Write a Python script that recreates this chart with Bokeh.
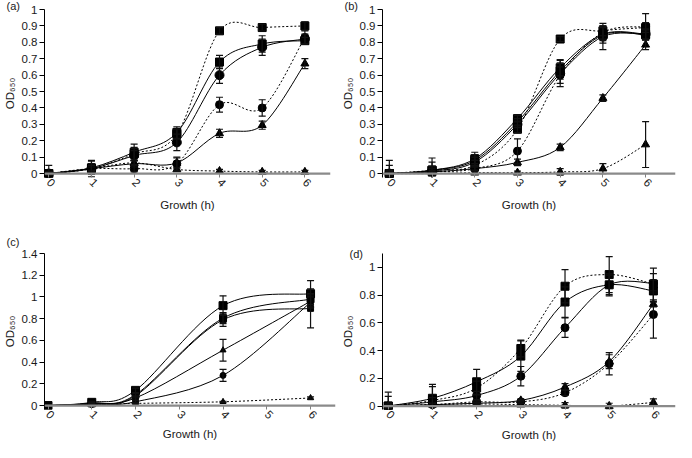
from math import pi
from bokeh.plotting import figure
from bokeh.layouts import column, row
from bokeh.models import ColumnDataSource, Whisker, TeeHead, FixedTicker, Range1d, Span, Title
from bokeh.embed import file_html
from bokeh.resources import INLINE

FONT = "Liberation Sans"
TXT = "#1a1a1a"

# ---------------- data ----------------
hours = [0, 1, 2, 3, 4, 5, 6]
hours_c = [0, 1, 2, 4, 6]
x_ticks = [0, 1, 2, 3, 4, 5, 6]
x_tick_labels = ["0", "1", "2", "3", "4", "5", "6"]
y_ticks_ab = [0, 0.1, 0.2, 0.3, 0.4, 0.5, 0.6, 0.7, 0.8, 0.9, 1.0]
y_labels_ab = ["0", "0.1", "0.2", "0.3", "0.4", "0.5", "0.6", "0.7", "0.8", "0.9", "1"]
y_ticks_c = [0, 0.2, 0.4, 0.6, 0.8, 1.0, 1.2, 1.4]
y_labels_c = ["0", "0.2", "0.4", "0.6", "0.8", "1", "1.2", "1.4"]
y_ticks_d = [0, 0.2, 0.4, 0.6, 0.8, 1.0]
y_labels_d = ["0", "0.2", "0.4", "0.6", "0.8", "1"]

# panel (a)
a_sq_solid = [0.00, 0.035, 0.13, 0.25, 0.68, 0.79, 0.81]
a_sq_solid_err = [0.01, 0.04, 0.05, 0.035, 0.04, 0.05, 0.02]
a_ci_solid = [0.00, 0.03, 0.11, 0.19, 0.60, 0.77, 0.82]
a_ci_solid_err = [0.01, 0.03, 0.03, 0.05, 0.05, 0.05, 0.03]
a_tr_solid = [0.00, 0.03, 0.06, 0.065, 0.245, 0.295, 0.67]
a_tr_solid_err = [0.01, 0.02, 0.02, 0.03, 0.025, 0.025, 0.03]
a_sq_dot = [0.00, 0.03, 0.12, 0.24, 0.87, 0.89, 0.90]
a_sq_dot_err = [0.05, 0.05, 0.04, 0.03, 0.02, 0.02, 0.025]
a_ci_dot = [0.00, 0.03, 0.03, 0.06, 0.42, 0.40, 0.83]
a_ci_dot_err = [0.01, 0.02, 0.02, 0.04, 0.045, 0.05, 0.04]
a_tr_dot = [0.00, 0.03, 0.065, 0.025, 0.015, 0.01, 0.01]
a_tr_dot_err = [0.01, 0.01, 0.01, 0.01, 0.01, 0.01, 0.01]

# panel (b)
b_sq_solid1 = [0.00, 0.02, 0.09, 0.335, 0.645, 0.85, 0.85]
b_sq_solid1_err = [0.08, 0.075, 0.04, 0.02, 0.05, 0.04, 0.03]
b_sq_solid2 = [0.00, 0.02, 0.08, 0.315, 0.625, 0.845, 0.845]
b_sq_solid2_err = [0.05, 0.05, 0.035, 0.02, 0.05, 0.05, 0.03]
b_ci_solid = [0.00, 0.015, 0.07, 0.30, 0.61, 0.835, 0.85]
b_ci_solid_err = [0.02, 0.03, 0.03, 0.02, 0.08, 0.08, 0.03]
b_tr_solid = [0.00, 0.01, 0.03, 0.068, 0.16, 0.46, 0.785]
b_tr_solid_err = [0.01, 0.01, 0.01, 0.02, 0.02, 0.02, 0.03]
b_sq_dot = [0.00, 0.02, 0.05, 0.27, 0.82, 0.87, 0.89]
b_sq_dot_err = [0.01, 0.02, 0.03, 0.02, 0.015, 0.03, 0.03]
b_ci_dot = [0.00, 0.01, 0.03, 0.137, 0.60, 0.86, 0.895]
b_ci_dot_err = [0.01, 0.02, 0.03, 0.075, 0.05, 0.04, 0.08]
b_tr_dot = [0.00, 0.00, 0.005, 0.005, 0.01, 0.03, 0.177]
b_tr_dot_err = [0.01, 0.01, 0.01, 0.01, 0.02, 0.03, 0.14]

# panel (c)  (measured at 0, 1, 2, 4, 6 h)
c_sq1 = [0.00, 0.03, 0.14, 0.92, 1.03]
c_sq1_err = [0.005, 0.01, 0.02, 0.09, 0.12]
c_sq2 = [0.00, 0.02, 0.10, 0.805, 0.98]
c_sq2_err = [0.005, 0.01, 0.02, 0.05, 0.05]
c_sq3 = [0.00, 0.02, 0.09, 0.79, 0.895]
c_sq3_err = [0.005, 0.01, 0.02, 0.06, 0.18]
c_tr = [0.00, 0.02, 0.07, 0.51, 0.96]
c_tr_err = [0.005, 0.01, 0.02, 0.10, 0.06]
c_ci = [0.00, 0.01, 0.035, 0.278, 0.95]
c_ci_err = [0.005, 0.01, 0.01, 0.055, 0.05]
c_tr_dot = [0.00, 0.01, 0.02, 0.035, 0.07]
c_tr_dot_err = [0.0, 0.005, 0.005, 0.005, 0.01]

# panel (d)
d_sq_dot = [0.00, 0.04, 0.13, 0.415, 0.864, 0.948, 0.88]
d_sq_dot_err = [0.10, 0.10, 0.05, 0.06, 0.12, 0.13, 0.115]
d_sq_solid = [0.00, 0.056, 0.175, 0.36, 0.75, 0.874, 0.83]
d_sq_solid_err = [0.07, 0.10, 0.09, 0.11, 0.11, 0.07, 0.08]
d_ci_solid = [0.00, 0.03, 0.076, 0.215, 0.565, 0.874, 0.885]
d_ci_solid_err = [0.02, 0.03, 0.03, 0.07, 0.07, 0.08, 0.07]
d_tr_solid = [0.00, 0.01, 0.02, 0.04, 0.137, 0.32, 0.735]
d_tr_solid_err = [0.01, 0.01, 0.01, 0.01, 0.025, 0.05, 0.02]
d_ci_dot = [0.00, 0.01, 0.03, 0.03, 0.096, 0.305, 0.66]
d_ci_dot_err = [0.01, 0.01, 0.01, 0.01, 0.02, 0.08, 0.17]
d_tr_dot = [0.00, 0.01, 0.015, 0.01, 0.005, 0.0, 0.026]
d_tr_dot_err = [0.01, 0.01, 0.01, 0.01, 0.02, 0.02, 0.025]

SOLID = "solid"
DOT = "2 2"

series_a = [
    (a_sq_dot, a_sq_dot_err, "square", 8, DOT),
    (a_ci_dot, a_ci_dot_err, "circle", 8, DOT),
    (a_tr_dot, a_tr_dot_err, "triangle", 8, DOT),
    (a_tr_solid, a_tr_solid_err, "triangle", 8, SOLID),
    (a_ci_solid, a_ci_solid_err, "circle", 9, SOLID),
    (a_sq_solid, a_sq_solid_err, "square", 8, SOLID),
]
series_b = [
    (b_sq_dot, b_sq_dot_err, "square", 8, DOT),
    (b_ci_dot, b_ci_dot_err, "circle", 8, DOT),
    (b_tr_dot, b_tr_dot_err, "triangle", 8, DOT),
    (b_tr_solid, b_tr_solid_err, "triangle", 8, SOLID),
    (b_ci_solid, b_ci_solid_err, "circle", 9, SOLID),
    (b_sq_solid2, b_sq_solid2_err, "square", 8, SOLID),
    (b_sq_solid1, b_sq_solid1_err, "square", 8, SOLID),
]
series_c = [
    (c_tr_dot, c_tr_dot_err, "triangle", 6, DOT),
    (c_ci, c_ci_err, "circle", 6, SOLID),
    (c_tr, c_tr_err, "triangle", 6, SOLID),
    (c_sq3, c_sq3_err, "square", 6, SOLID),
    (c_sq2, c_sq2_err, "square", 7, SOLID),
    (c_sq1, c_sq1_err, "square", 8, SOLID),
]
series_d = [
    (d_tr_dot, d_tr_dot_err, "triangle", 8, DOT),
    (d_ci_dot, d_ci_dot_err, "circle", 8, DOT),
    (d_tr_solid, d_tr_solid_err, "triangle", 8, SOLID),
    (d_ci_solid, d_ci_solid_err, "circle", 8, SOLID),
    (d_sq_solid, d_sq_solid_err, "square", 8, SOLID),
    (d_sq_dot, d_sq_dot_err, "square", 8, DOT),
]


def smooth(xs, ys):
    n = len(xs)
    d = dict(x0=[], y0=[], x1=[], y1=[], cx0=[], cy0=[], cx1=[], cy1=[])
    for i in range(n - 1):
        a = max(i - 1, 0)
        b = min(i + 2, n - 1)
        d["x0"].append(xs[i]); d["y0"].append(ys[i])
        d["x1"].append(xs[i + 1]); d["y1"].append(ys[i + 1])
        d["cx0"].append(xs[i] + (xs[i + 1] - xs[a]) / 6.0)
        d["cy0"].append(ys[i] + (ys[i + 1] - ys[a]) / 6.0)
        d["cx1"].append(xs[i + 1] - (xs[b] - xs[i]) / 6.0)
        d["cy1"].append(ys[i + 1] - (ys[b] - ys[i]) / 6.0)
    return d


def make_panel(tag, xs, series, xr, yr, yticks, ylabels, borders, tag_x, tag_standoff,
               x_standoffs):
    left, right, top, bottom = borders
    p = figure(width=338, height=221, output_backend="svg", toolbar_location=None,
               x_range=Range1d(*xr), y_range=Range1d(*yr),
               min_border_left=left, min_border_right=right,
               min_border_top=top, min_border_bottom=bottom)
    p.background_fill_color = "white"
    p.border_fill_color = "white"
    p.outline_line_color = None
    p.grid.visible = False

    # panel tag as a left-aligned title
    p.title.text = tag
    p.title.align = "left"
    p.title.offset = tag_x - left
    p.title.standoff = tag_standoff
    p.title.text_font = FONT
    p.title.text_font_size = "11px"
    p.title.text_font_style = "normal"
    p.title.text_color = TXT

    p.add_layout(Span(location=0, dimension="width", line_color="#8a8a8a", line_width=2.2))

    for vals, errs, marker, size, dash in series:
        p.bezier(source=ColumnDataSource(smooth(xs, vals)), x0="x0", y0="y0", x1="x1", y1="y1",
                 cx0="cx0", cy0="cy0", cx1="cx1", cy1="cy1",
                 line_color="black", line_width=1, line_dash=dash)
    for vals, errs, marker, size, dash in series:
        src = ColumnDataSource(dict(x=xs, upper=[v + e for v, e in zip(vals, errs)],
                                    lower=[v - e for v, e in zip(vals, errs)]))
        w = Whisker(source=src, base="x", upper="upper", lower="lower",
                    line_color="#111111", line_width=1.2, level="glyph",
                    upper_head=TeeHead(size=7, line_color="#111111", line_width=1.2),
                    lower_head=TeeHead(size=7, line_color="#111111", line_width=1.2))
        p.add_layout(w)
    for vals, errs, marker, size, dash in series:
        p.scatter(xs, vals, marker=marker, size=size, fill_color="black", line_color="black")

    xa = p.xaxis[0]
    xa.ticker = FixedTicker(ticks=x_ticks)
    xa.major_label_overrides = {t: s for t, s in zip(x_ticks, x_tick_labels)}
    xa.major_label_orientation = -pi / 4
    xa.axis_line_color = None
    xa.major_tick_line_color = "#808080"
    xa.major_tick_in = 4
    xa.major_tick_out = 0
    xa.minor_tick_line_color = None
    xa.major_label_standoff = x_standoffs[0]

    # x axis title placed below the tick labels
    p.add_layout(Title(text="Growth (h)", align="center", standoff=x_standoffs[1],
                       text_font=FONT, text_font_size="11.5px", text_font_style="normal",
                       text_color=TXT), "below")

    ya = p.yaxis[0]
    ya.ticker = FixedTicker(ticks=yticks)
    ya.major_label_overrides = {t: s for t, s in zip(yticks, ylabels)}
    ya.axis_label = "OD\u2086\u2085\u2080"
    ya.axis_line_color = "black"
    ya.major_tick_line_color = "black"
    ya.major_tick_in = 0
    ya.major_tick_out = 5
    ya.minor_tick_line_color = None
    ya.major_label_standoff = 2
    ya.axis_label_standoff = 3

    for ax in (xa, ya):
        ax.major_label_text_font = FONT
        ax.major_label_text_font_size = "11.5px"
        ax.major_label_text_color = TXT
        ax.axis_label_text_font = FONT
        ax.axis_label_text_font_size = "11.5px"
        ax.axis_label_text_font_style = "normal"
        ax.axis_label_text_color = TXT
    return p


pa = make_panel("(a)", hours, series_a, (-0.1, 6.6), (-0.024, 1.0), y_ticks_ab, y_labels_ab,
                (40, 8, 6, 44), 2, -5, (3, 6))
pb = make_panel("(b)", hours, series_b, (-0.16, 6.7), (-0.024, 1.0), y_ticks_ab, y_labels_ab,
                (40, 1, 6, 44), 2, -5, (3, 6))
pc = make_panel("(c)", hours_c, series_c, (-0.08, 6.57), (-0.036, 1.4), y_ticks_c, y_labels_c,
                (40, 3, 32, 30), 2, 12, (3, 1))
pd = make_panel("(d)", hours, series_d, (-0.13, 6.5), (-0.025, 1.1), y_ticks_d, y_labels_d,
                (41, 1, 7, 33), 8, -13, (3, 2))

layout = column(row(pa, pb), row(pc, pd))
open("out.html", "w").write(file_html(layout, INLINE))
